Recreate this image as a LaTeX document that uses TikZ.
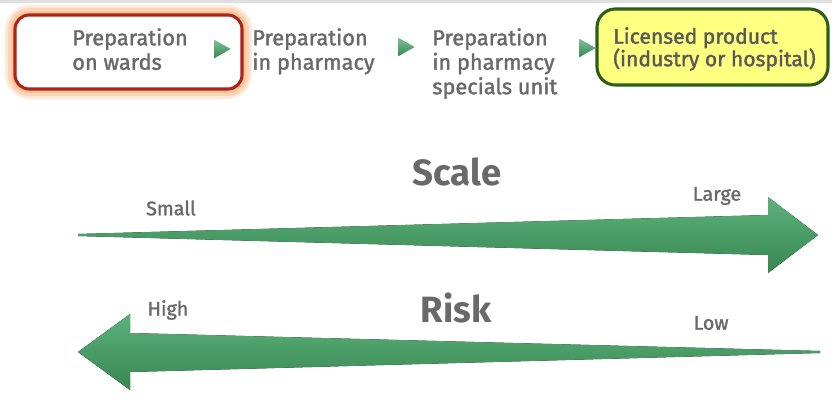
\documentclass[tikz,border=0pt]{standalone}
\usepackage{fontspec}
\setmainfont{Fira Sans}
\newfontfamily\medfont{Fira Sans}[FakeBold=1.6]
\usetikzlibrary{shapes.geometric,positioning}

\definecolor{txtgray}{RGB}{105,105,105}
\definecolor{arrowlight}{RGB}{92,178,122}
\definecolor{arrowmid}{RGB}{80,164,108}
\definecolor{arrowdark}{RGB}{56,134,82}
\definecolor{wardred}{RGB}{172,36,26}
\definecolor{glow}{RGB}{250,196,150}
\definecolor{licyellow}{RGB}{255,255,128}
\definecolor{licgreen}{RGB}{44,94,24}

\begin{document}
\begin{tikzpicture}[x=0.025cm, y=-0.025cm,
  stage/.style={anchor=north west, inner sep=0pt, align=left,
                text=txtgray, font=\medfont\fontsize{15.5}{17.4}\selectfont},
  pointer/.style={isosceles triangle, isosceles triangle stretches,
                  minimum width=0.45cm, minimum height=0.4cm, inner sep=0pt,
                  top color=arrowlight!80!white, bottom color=arrowdark},
  axistitle/.style={font=\fontsize{26}{30}\selectfont\bfseries, text=txtgray},
  axisend/.style={font=\medfont\fontsize{14}{16}\selectfont, text=txtgray},
  bigarrow/.style={top color=arrowlight, middle color=arrowmid, bottom color=arrowdark}
]
\useasboundingbox (0,0) rectangle (832,400);
\fill[gray!25] (0,0) rectangle (832,3);

% highlighted boxes
\foreach \w/\o in {14/0.35, 10/0.55, 6/0.8}
  \draw[glow, line width=\w pt, opacity=\o, rounded corners=10pt] (15,15) rectangle (242,89);
\draw[wardred, line width=2.2pt, rounded corners=10pt, fill=white] (15,15) rectangle (242,89);
\draw[licgreen, line width=2.2pt, rounded corners=13pt, fill=licyellow] (597,9) rectangle (828,85);

% stages
\node[stage] (ward)     at (72,28)  {Preparation\\on wards};
\node[stage] (pharm)    at (252,28) {Preparation\\in pharmacy};
\node[stage] (special)  at (432,28) {Preparation\\in pharmacy\\specials unit};
\node[stage, font=\medfont\fontsize{15}{16}\selectfont, text=txtgray!85!black]
             (licensed) at (613,27) {Licensed product\\(industry or hospital)};

\node[pointer] (p1) at (220,49) {};
\node[pointer] (p2) at (404,47) {};
\node[pointer] (p3) at (585,48) {};

% scale axis
\fill[bigarrow] (78,234) -- (768,215) -- (768,197) -- (818,235)
  -- (768,273) -- (768,255) -- (78,236) -- cycle;
\node[axistitle] (scale) at (457,172) {Scale};
\node[axisend]   (small) at (171,208) {Small};
\node[axisend]   (large) at (717,196) {Large};

% risk axis
\fill[bigarrow] (820,351) -- (130,333) -- (130,314) -- (78,352)
  -- (130,390) -- (130,372) -- (820,353) -- cycle;
\node[axistitle] (risk) at (456,308) {Risk};
\node[axisend]   (high) at (168,310) {High};
\node[axisend]   (low)  at (711,323) {Low};
\end{tikzpicture}
\end{document}
